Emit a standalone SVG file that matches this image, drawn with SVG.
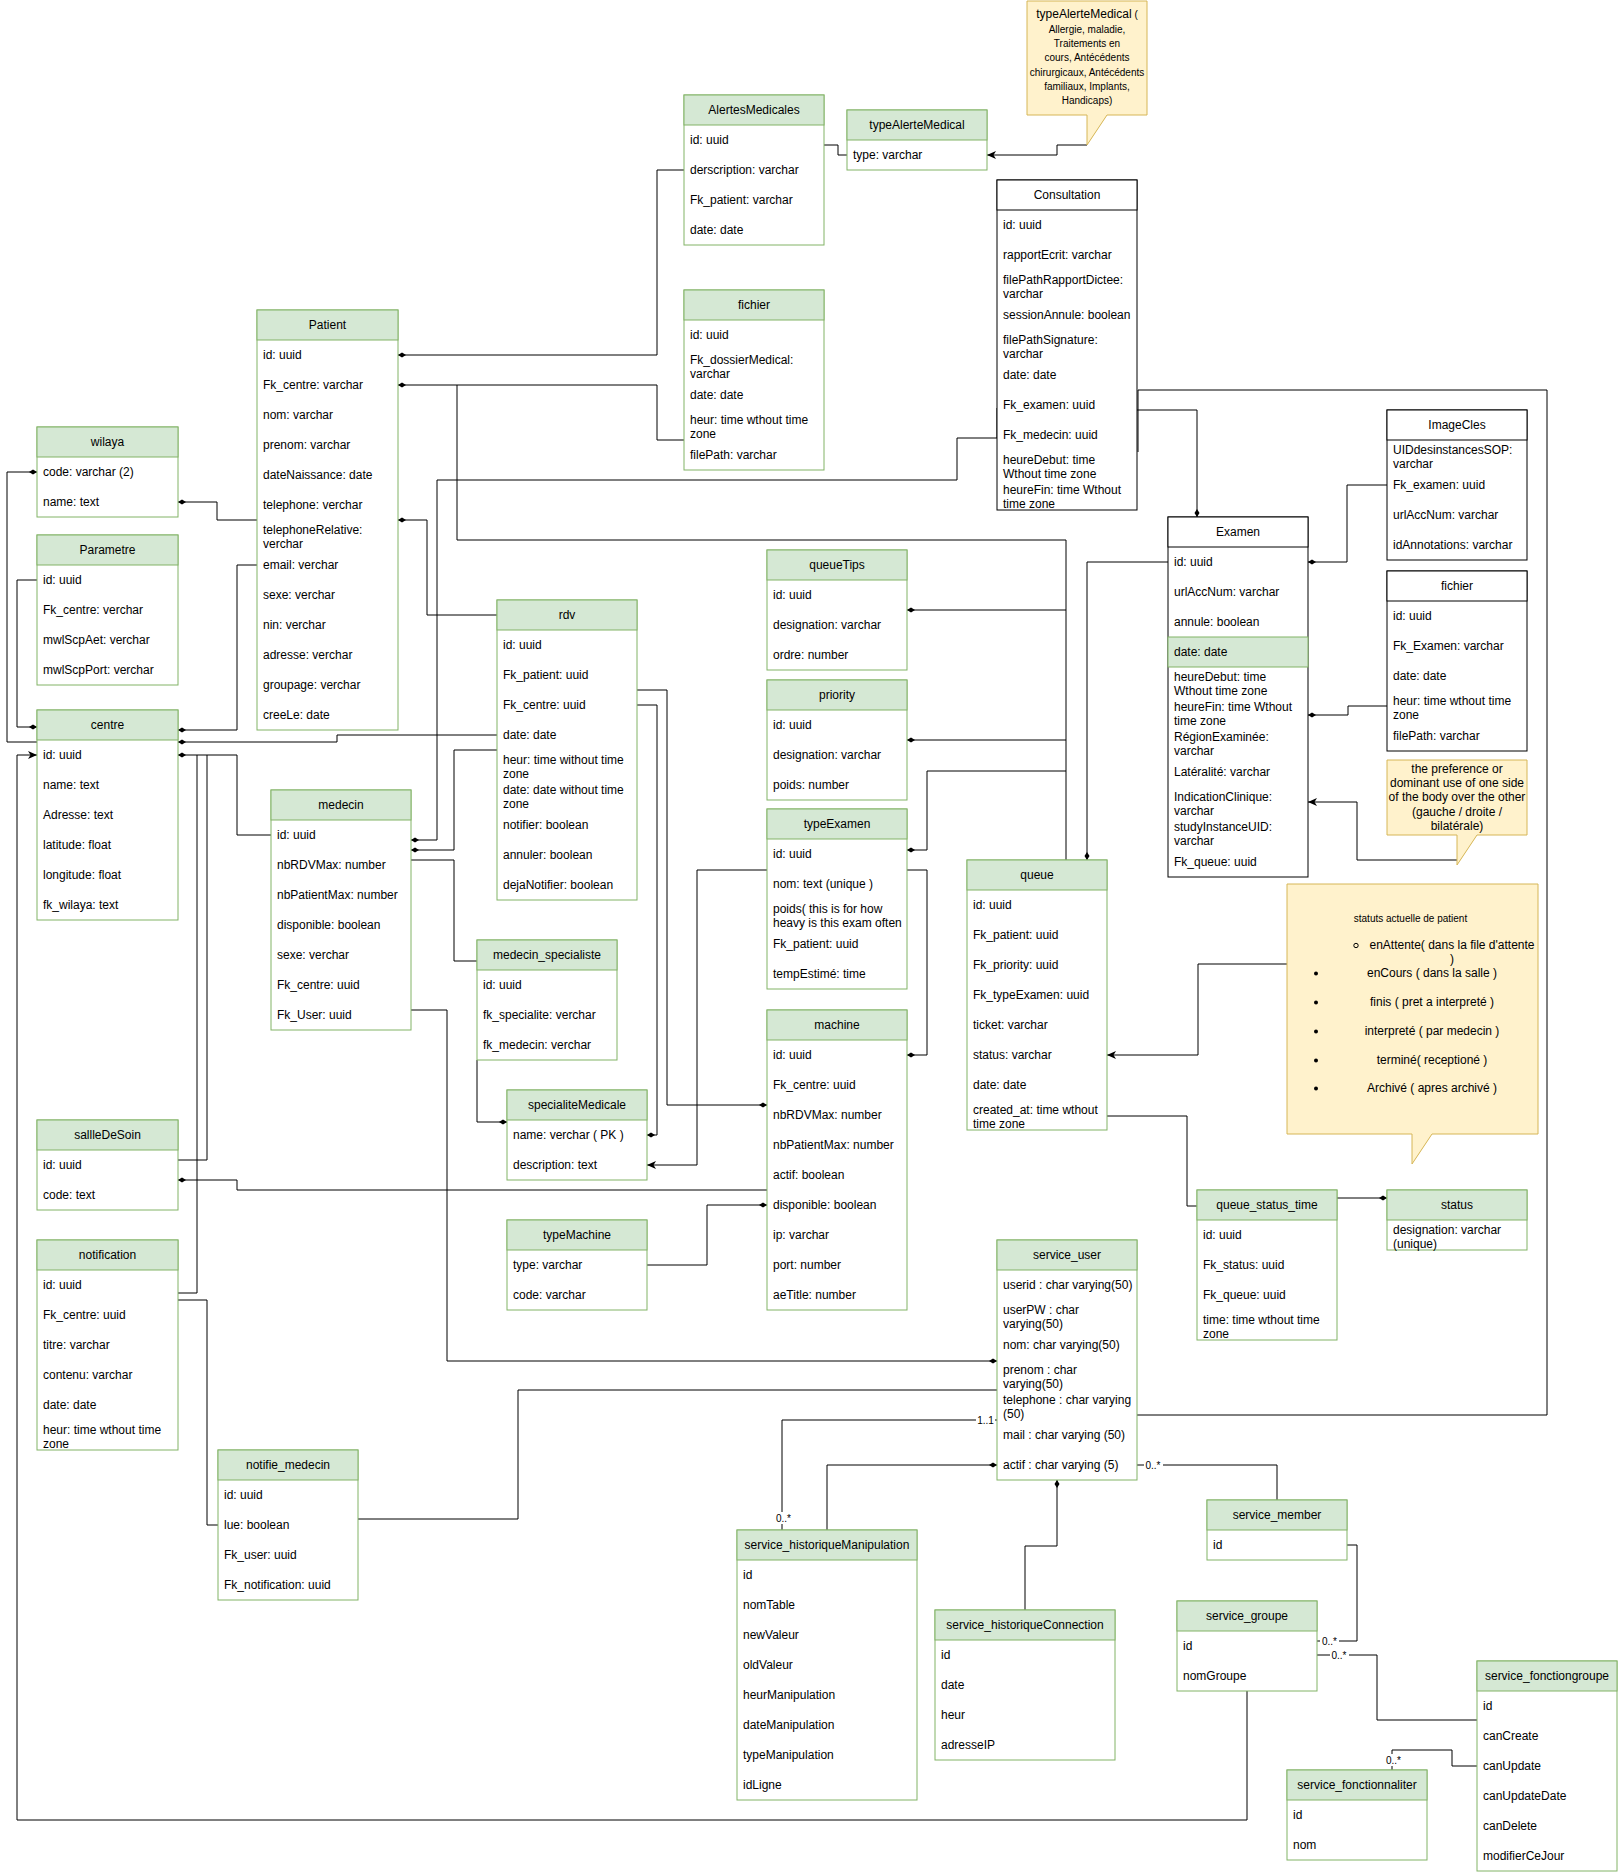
<svg xmlns="http://www.w3.org/2000/svg" width="1618" height="1872" viewBox="0 0 1618 1872">
<style>
.h{fill:#d5e8d4;stroke:#82b366;stroke-width:1}
.b{fill:#fff;stroke:#82b366;stroke-width:1}
.k{fill:#fff;stroke:#000;stroke-width:1}
.t{font-family:"Liberation Sans",Arial,sans-serif;font-size:12px;fill:#000}
.s{font-family:"Liberation Sans",Arial,sans-serif;font-size:10px;fill:#000}
.c{text-anchor:middle}
.e{fill:none;stroke:#000;stroke-width:1}
.n{fill:#fff2cc;stroke:#d6b656;stroke-width:1}
.lb{fill:#fff}
</style>
<defs>
<marker id="d" markerWidth="10" markerHeight="8" refX="9" refY="4" orient="auto" markerUnits="userSpaceOnUse"><path d="M1,4 L5,1.5 L9,4 L5,6.5 Z" fill="#000"/></marker>
<marker id="a" markerWidth="10" markerHeight="10" refX="9" refY="5" orient="auto" markerUnits="userSpaceOnUse"><path d="M0,1 L9,5 L0,9 L2.5,5 Z" fill="#000"/></marker>
</defs>
<rect width="1618" height="1872" fill="#fff"/>

<g id="connectors">
<path class="e" d="M684,170 H657 V355 H398" marker-end="url(#d)"/>
<path class="e" d="M684,440 H657 V385 H398" marker-end="url(#d)"/>
<path class="e" d="M1066,860 V540 H457 V385"/>
<path class="e" d="M497,615 H427 V520 H398" marker-end="url(#d)"/>
<path class="e" d="M257,520 H217 V502 H178" marker-end="url(#d)"/>
<path class="e" d="M38,757 V742 H7 V472 H37" marker-end="url(#d)"/>
<path class="e" d="M37,580 H17 V727 H37" marker-end="url(#d)"/>
<path class="e" d="M257,565 H237 V730 H178" marker-end="url(#d)"/>
<path class="e" d="M497,735 H337 V742 H178" marker-end="url(#d)"/>
<path class="e" d="M271,835 H237 V755 H178" marker-end="url(#d)"/>
<path class="e" d="M178,1160 H207 V755"/>
<path class="e" d="M178,1293 H197 V755"/>
<path class="e" d="M218,1525 H207 V1300 H178"/>
<path class="e" d="M1247,1691 V1820 H17 V755 H37" marker-end="url(#a)"/>
<path class="e" d="M767,1190 H237 V1180 H178" marker-end="url(#d)"/>
<path class="e" d="M997,408 V438 H957 V480 H437 V840 H411" marker-end="url(#d)"/>
<path class="e" d="M497,750 H454 V850 H411" marker-end="url(#d)"/>
<path class="e" d="M411,860 H454 V961 H477"/>
<path class="e" d="M411,1010 H447 V1361 H997" marker-end="url(#d)"/>
<path class="e" d="M358,1519 H518 V1390 H997"/>
<path class="e" d="M647,1265 H707 V1205 H767" marker-end="url(#d)"/>
<path class="e" d="M637,690 H667 V1105 H767" marker-end="url(#d)"/>
<path class="e" d="M637,705 H657 V1135 H647" marker-end="url(#d)"/>
<path class="e" d="M767,870 H697 V1165 H647" marker-end="url(#a)"/>
<path class="e" d="M477,1060 V1122 H507" marker-end="url(#d)"/>
<path class="e" d="M907,870 H927 V1055 H907" marker-end="url(#d)"/>
<path class="e" d="M1066,610 H907" marker-end="url(#d)"/>
<path class="e" d="M1066,740 H907" marker-end="url(#d)"/>
<path class="e" d="M1066,771 H927 V850 H907" marker-end="url(#d)"/>
<path class="e" d="M1168,562 H1087 V860" marker-end="url(#d)"/>
<path class="e" d="M1137,410 H1197 V517" marker-end="url(#d)"/>
<path class="e" d="M1138,452 V390 H1547 V1415 H1137"/>
<path class="e" d="M1387,485 H1347 V562 H1308" marker-end="url(#d)"/>
<path class="e" d="M1387,706 H1348 V715 H1308" marker-end="url(#d)"/>
<path class="e" d="M1457,860 H1357 V802 H1308" marker-end="url(#a)"/>
<path class="e" d="M1287,964 H1198 V1055 H1107" marker-end="url(#a)"/>
<path class="e" d="M1107,1116 H1187 V1206 H1197"/>
<path class="e" d="M1337,1198 H1387" marker-end="url(#d)"/>
<path class="e" d="M1087,145 H1057 V155 H987" marker-end="url(#a)"/>
<path class="e" d="M824,145 H838 V155 H847"/>
<path class="e" d="M997,1420 H782 V1530"/>
<path class="e" d="M827,1530 V1465 H997" marker-end="url(#d)"/>
<path class="e" d="M1025,1610 V1546 H1057 V1480" marker-end="url(#d)"/>
<path class="e" d="M1137,1465 H1277 V1500"/>
<path class="e" d="M1347,1545 H1357 V1641 H1317"/>
<path class="e" d="M1317,1655 H1377 V1720 H1477"/>
<path class="e" d="M1477,1766 H1452 V1750 H1392 V1770"/>
<rect class="lb" x="976" y="1414" width="19" height="12"/>
<text class="s c" x="985.5" y="1424">1..1</text>
<rect class="lb" x="774" y="1512" width="19" height="12"/>
<text class="s c" x="783.5" y="1522">0..*</text>
<rect class="lb" x="1144" y="1459" width="19" height="12"/>
<text class="s c" x="1153" y="1469">0..*</text>
<rect class="lb" x="1320" y="1635" width="19" height="12"/>
<text class="s c" x="1329.5" y="1645">0..*</text>
<rect class="lb" x="1330" y="1649" width="19" height="12"/>
<text class="s c" x="1339" y="1659">0..*</text>
<rect class="lb" x="1384" y="1754" width="19" height="12"/>
<text class="s c" x="1393.5" y="1764">0..*</text>
</g>

<g id="note-typeAlerte">
<path class="n" d="M1027,1 H1147 V115 H1107 L1087,145 V115 H1027 Z"/>
<text class="t c" x="1087" y="18">typeAlerteMedical<tspan font-size="10"> (</tspan></text>
<text class="s c" x="1087" y="33">Allergie, maladie,</text>
<text class="s c" x="1087" y="47">Traitements en</text>
<text class="s c" x="1087" y="61">cours, Antécédents</text>
<text class="s c" x="1087" y="76">chirurgicaux, Antécédents</text>
<text class="s c" x="1087" y="90">familiaux, Implants,</text>
<text class="s c" x="1087" y="104">Handicaps)</text>
</g>

<g id="note-lateralite">
<path class="n" d="M1387,760 H1527 V835 H1477 L1457,865 V835 H1387 Z"/>
<text class="t c" x="1457" y="773">the preference or</text>
<text class="t c" x="1457" y="787">dominant use of one side</text>
<text class="t c" x="1457" y="801">of the body over the other</text>
<text class="t c" x="1457" y="816">(gauche / droite /</text>
<text class="t c" x="1457" y="830">bilatérale)</text>
</g>

<g id="note-statuts">
<path class="n" d="M1287,884 H1538 V1134 H1432 L1412,1164 V1134 H1287 Z"/>
<text class="s c" x="1410.5" y="922">statuts actuelle de patient</text>
<circle cx="1356" cy="945.5" r="2.2" fill="none" stroke="#000" stroke-width="1"/>
<text class="t c" x="1452" y="949">enAttente( dans la file d'attente</text>
<text class="t c" x="1452" y="963">)</text>
<circle cx="1316" cy="973.5" r="2" fill="#000"/>
<text class="t c" x="1432" y="977">enCours ( dans la salle )</text>
<circle cx="1316" cy="1002.5" r="2" fill="#000"/>
<text class="t c" x="1432" y="1006">finis ( pret a interpreté )</text>
<circle cx="1316" cy="1031.5" r="2" fill="#000"/>
<text class="t c" x="1432" y="1035">interpreté ( par medecin )</text>
<circle cx="1316" cy="1060.5" r="2" fill="#000"/>
<text class="t c" x="1432" y="1064">terminé( receptioné )</text>
<circle cx="1316" cy="1088.5" r="2" fill="#000"/>
<text class="t c" x="1432" y="1092">Archivé ( apres archivé )</text>
</g>

<g id="Patient">
<rect class="b" x="257" y="310" width="141" height="420"/><rect class="h" x="257" y="310" width="141" height="30"/>
<text class="t c" x="327.5" y="329">Patient</text>
<text class="t" x="263" y="359">id: uuid</text>
<text class="t" x="263" y="389">Fk_centre: varchar</text>
<text class="t" x="263" y="419">nom: varchar</text>
<text class="t" x="263" y="449">prenom: varchar</text>
<text class="t" x="263" y="479">dateNaissance: date</text>
<text class="t" x="263" y="509">telephone: verchar</text>
<text class="t" x="263" y="533.5">telephoneRelative:</text>
<text class="t" x="263" y="547.5">verchar</text>
<text class="t" x="263" y="569">email: verchar</text>
<text class="t" x="263" y="599">sexe: verchar</text>
<text class="t" x="263" y="629">nin: verchar</text>
<text class="t" x="263" y="659">adresse: verchar</text>
<text class="t" x="263" y="689">groupage: verchar</text>
<text class="t" x="263" y="719">creeLe: date</text>
</g>

<g id="wilaya">
<rect class="b" x="37" y="427" width="141" height="90"/><rect class="h" x="37" y="427" width="141" height="30"/>
<text class="t c" x="107.5" y="446">wilaya</text>
<text class="t" x="43" y="476">code: varchar (2)</text>
<text class="t" x="43" y="506">name: text</text>
</g>

<g id="Parametre">
<rect class="b" x="37" y="535" width="141" height="150"/><rect class="h" x="37" y="535" width="141" height="30"/>
<text class="t c" x="107.5" y="554">Parametre</text>
<text class="t" x="43" y="584">id: uuid</text>
<text class="t" x="43" y="614">Fk_centre: verchar</text>
<text class="t" x="43" y="644">mwlScpAet: verchar</text>
<text class="t" x="43" y="674">mwlScpPort: verchar</text>
</g>

<g id="centre">
<rect class="b" x="37" y="710" width="141" height="210"/><rect class="h" x="37" y="710" width="141" height="30"/>
<text class="t c" x="107.5" y="729">centre</text>
<text class="t" x="43" y="759">id: uuid</text>
<text class="t" x="43" y="789">name: text</text>
<text class="t" x="43" y="819">Adresse: text</text>
<text class="t" x="43" y="849">latitude: float</text>
<text class="t" x="43" y="879">longitude: float</text>
<text class="t" x="43" y="909">fk_wilaya: text</text>
</g>

<g id="sallleDeSoin">
<rect class="b" x="37" y="1120" width="141" height="90"/><rect class="h" x="37" y="1120" width="141" height="30"/>
<text class="t c" x="107.5" y="1139">sallleDeSoin</text>
<text class="t" x="43" y="1169">id: uuid</text>
<text class="t" x="43" y="1199">code: text</text>
</g>

<g id="notification">
<rect class="b" x="37" y="1240" width="141" height="210"/><rect class="h" x="37" y="1240" width="141" height="30"/>
<text class="t c" x="107.5" y="1259">notification</text>
<text class="t" x="43" y="1289">id: uuid</text>
<text class="t" x="43" y="1319">Fk_centre: uuid</text>
<text class="t" x="43" y="1349">titre: varchar</text>
<text class="t" x="43" y="1379">contenu: varchar</text>
<text class="t" x="43" y="1409">date: date</text>
<text class="t" x="43" y="1433.5">heur: time wthout time</text>
<text class="t" x="43" y="1447.5">zone</text>
</g>

<g id="notifie_medecin">
<rect class="b" x="218" y="1450" width="140" height="150"/><rect class="h" x="218" y="1450" width="140" height="30"/>
<text class="t c" x="288" y="1469">notifie_medecin</text>
<text class="t" x="224" y="1499">id: uuid</text>
<text class="t" x="224" y="1529">lue: boolean</text>
<text class="t" x="224" y="1559">Fk_user: uuid</text>
<text class="t" x="224" y="1589">Fk_notification: uuid</text>
</g>

<g id="medecin">
<rect class="b" x="271" y="790" width="140" height="240"/><rect class="h" x="271" y="790" width="140" height="30"/>
<text class="t c" x="341" y="809">medecin</text>
<text class="t" x="277" y="839">id: uuid</text>
<text class="t" x="277" y="869">nbRDVMax: number</text>
<text class="t" x="277" y="899">nbPatientMax: number</text>
<text class="t" x="277" y="929">disponible: boolean</text>
<text class="t" x="277" y="959">sexe: verchar</text>
<text class="t" x="277" y="989">Fk_centre: uuid</text>
<text class="t" x="277" y="1019">Fk_User: uuid</text>
</g>

<g id="rdv">
<rect class="b" x="497" y="600" width="140" height="300"/><rect class="h" x="497" y="600" width="140" height="30"/>
<text class="t c" x="567" y="619">rdv</text>
<text class="t" x="503" y="649">id: uuid</text>
<text class="t" x="503" y="679">Fk_patient: uuid</text>
<text class="t" x="503" y="709">Fk_centre: uuid</text>
<text class="t" x="503" y="739">date: date</text>
<text class="t" x="503" y="763.5">heur: time without time</text>
<text class="t" x="503" y="777.5">zone</text>
<text class="t" x="503" y="793.5">date: date without time</text>
<text class="t" x="503" y="807.5">zone</text>
<text class="t" x="503" y="829">notifier: boolean</text>
<text class="t" x="503" y="859">annuler: boolean</text>
<text class="t" x="503" y="889">dejaNotifier: boolean</text>
</g>

<g id="medecin_specialiste">
<rect class="b" x="477" y="940" width="140" height="120"/><rect class="h" x="477" y="940" width="140" height="30"/>
<text class="t c" x="547" y="959">medecin_specialiste</text>
<text class="t" x="483" y="989">id: uuid</text>
<text class="t" x="483" y="1019">fk_specialite: verchar</text>
<text class="t" x="483" y="1049">fk_medecin: verchar</text>
</g>

<g id="specialiteMedicale">
<rect class="b" x="507" y="1090" width="140" height="90"/><rect class="h" x="507" y="1090" width="140" height="30"/>
<text class="t c" x="577" y="1109">specialiteMedicale</text>
<text class="t" x="513" y="1139">name: verchar ( PK )</text>
<text class="t" x="513" y="1169">description: text</text>
</g>

<g id="typeMachine">
<rect class="b" x="507" y="1220" width="140" height="90"/><rect class="h" x="507" y="1220" width="140" height="30"/>
<text class="t c" x="577" y="1239">typeMachine</text>
<text class="t" x="513" y="1269">type: varchar</text>
<text class="t" x="513" y="1299">code: varchar</text>
</g>

<g id="AlertesMedicales">
<rect class="b" x="684" y="95" width="140" height="150"/><rect class="h" x="684" y="95" width="140" height="30"/>
<text class="t c" x="754" y="114">AlertesMedicales</text>
<text class="t" x="690" y="144">id: uuid</text>
<text class="t" x="690" y="174">derscription: varchar</text>
<text class="t" x="690" y="204">Fk_patient: varchar</text>
<text class="t" x="690" y="234">date: date</text>
</g>

<g id="typeAlerteMedical">
<rect class="b" x="847" y="110" width="140" height="60"/><rect class="h" x="847" y="110" width="140" height="30"/>
<text class="t c" x="917" y="129">typeAlerteMedical</text>
<text class="t" x="853" y="159">type: varchar</text>
</g>

<g id="fichier">
<rect class="b" x="684" y="290" width="140" height="180"/><rect class="h" x="684" y="290" width="140" height="30"/>
<text class="t c" x="754" y="309">fichier</text>
<text class="t" x="690" y="339">id: uuid</text>
<text class="t" x="690" y="363.5">Fk_dossierMedical:</text>
<text class="t" x="690" y="377.5">varchar</text>
<text class="t" x="690" y="399">date: date</text>
<text class="t" x="690" y="423.5">heur: time wthout time</text>
<text class="t" x="690" y="437.5">zone</text>
<text class="t" x="690" y="459">filePath: varchar</text>
</g>

<g id="queueTips">
<rect class="b" x="767" y="550" width="140" height="120"/><rect class="h" x="767" y="550" width="140" height="30"/>
<text class="t c" x="837" y="569">queueTips</text>
<text class="t" x="773" y="599">id: uuid</text>
<text class="t" x="773" y="629">designation: varchar</text>
<text class="t" x="773" y="659">ordre: number</text>
</g>

<g id="priority">
<rect class="b" x="767" y="680" width="140" height="120"/><rect class="h" x="767" y="680" width="140" height="30"/>
<text class="t c" x="837" y="699">priority</text>
<text class="t" x="773" y="729">id: uuid</text>
<text class="t" x="773" y="759">designation: varchar</text>
<text class="t" x="773" y="789">poids: number</text>
</g>

<g id="typeExamen">
<rect class="b" x="767" y="809" width="140" height="180"/><rect class="h" x="767" y="809" width="140" height="30"/>
<text class="t c" x="837" y="828">typeExamen</text>
<text class="t" x="773" y="858">id: uuid</text>
<text class="t" x="773" y="888">nom: text (unique )</text>
<text class="t" x="773" y="912.5">poids( this is for how</text>
<text class="t" x="773" y="926.5">heavy is this exam often</text>
<text class="t" x="773" y="948">Fk_patient: uuid</text>
<text class="t" x="773" y="978">tempEstimé: time</text>
</g>

<g id="machine">
<rect class="b" x="767" y="1010" width="140" height="300"/><rect class="h" x="767" y="1010" width="140" height="30"/>
<text class="t c" x="837" y="1029">machine</text>
<text class="t" x="773" y="1059">id: uuid</text>
<text class="t" x="773" y="1089">Fk_centre: uuid</text>
<text class="t" x="773" y="1119">nbRDVMax: number</text>
<text class="t" x="773" y="1149">nbPatientMax: number</text>
<text class="t" x="773" y="1179">actif: boolean</text>
<text class="t" x="773" y="1209">disponible: boolean</text>
<text class="t" x="773" y="1239">ip: varchar</text>
<text class="t" x="773" y="1269">port: number</text>
<text class="t" x="773" y="1299">aeTitle: number</text>
</g>

<g id="queue">
<rect class="b" x="967" y="860" width="140" height="270"/><rect class="h" x="967" y="860" width="140" height="30"/>
<text class="t c" x="1037" y="879">queue</text>
<text class="t" x="973" y="909">id: uuid</text>
<text class="t" x="973" y="939">Fk_patient: uuid</text>
<text class="t" x="973" y="969">Fk_priority: uuid</text>
<text class="t" x="973" y="999">Fk_typeExamen: uuid</text>
<text class="t" x="973" y="1029">ticket: varchar</text>
<text class="t" x="973" y="1059">status: varchar</text>
<text class="t" x="973" y="1089">date: date</text>
<text class="t" x="973" y="1113.5">created_at: time wthout</text>
<text class="t" x="973" y="1127.5">time zone</text>
</g>

<g id="Consultation">
<rect class="k" x="997" y="180" width="140" height="330"/><rect class="k" x="997" y="180" width="140" height="30"/>
<text class="t c" x="1067" y="199">Consultation</text>
<text class="t" x="1003" y="229">id: uuid</text>
<text class="t" x="1003" y="259">rapportEcrit: varchar</text>
<text class="t" x="1003" y="283.5">filePathRapportDictee:</text>
<text class="t" x="1003" y="297.5">varchar</text>
<text class="t" x="1003" y="319">sessionAnnule: boolean</text>
<text class="t" x="1003" y="343.5">filePathSignature:</text>
<text class="t" x="1003" y="357.5">varchar</text>
<text class="t" x="1003" y="379">date: date</text>
<text class="t" x="1003" y="409">Fk_examen: uuid</text>
<text class="t" x="1003" y="439">Fk_medecin: uuid</text>
<text class="t" x="1003" y="463.5">heureDebut: time</text>
<text class="t" x="1003" y="477.5">Wthout time zone</text>
<text class="t" x="1003" y="493.5">heureFin: time Wthout</text>
<text class="t" x="1003" y="507.5">time zone</text>
</g>

<g id="Examen">
<rect class="k" x="1168" y="517" width="140" height="360"/><rect class="k" x="1168" y="517" width="140" height="30"/>
<rect class="h" x="1168" y="637" width="140" height="30"/>
<text class="t c" x="1238" y="536">Examen</text>
<text class="t" x="1174" y="566">id: uuid</text>
<text class="t" x="1174" y="596">urlAccNum: varchar</text>
<text class="t" x="1174" y="626">annule: boolean</text>
<text class="t" x="1174" y="656">date: date</text>
<text class="t" x="1174" y="680.5">heureDebut: time</text>
<text class="t" x="1174" y="694.5">Wthout time zone</text>
<text class="t" x="1174" y="710.5">heureFin: time Wthout</text>
<text class="t" x="1174" y="724.5">time zone</text>
<text class="t" x="1174" y="740.5">RégionExaminée:</text>
<text class="t" x="1174" y="754.5">varchar</text>
<text class="t" x="1174" y="776">Latéralité: varchar</text>
<text class="t" x="1174" y="800.5">IndicationClinique:</text>
<text class="t" x="1174" y="814.5">varchar</text>
<text class="t" x="1174" y="830.5">studyInstanceUID:</text>
<text class="t" x="1174" y="844.5">varchar</text>
<text class="t" x="1174" y="866">Fk_queue: uuid</text>
</g>

<g id="ImageCles">
<rect class="k" x="1387" y="410" width="140" height="150"/><rect class="k" x="1387" y="410" width="140" height="30"/>
<text class="t c" x="1457" y="429">ImageCles</text>
<text class="t" x="1393" y="453.5">UIDdesinstancesSOP:</text>
<text class="t" x="1393" y="467.5">varchar</text>
<text class="t" x="1393" y="489">Fk_examen: uuid</text>
<text class="t" x="1393" y="519">urlAccNum: varchar</text>
<text class="t" x="1393" y="549">idAnnotations: varchar</text>
</g>

<g id="fichier2">
<rect class="k" x="1387" y="571" width="140" height="180"/><rect class="k" x="1387" y="571" width="140" height="30"/>
<text class="t c" x="1457" y="590">fichier</text>
<text class="t" x="1393" y="620">id: uuid</text>
<text class="t" x="1393" y="650">Fk_Examen: varchar</text>
<text class="t" x="1393" y="680">date: date</text>
<text class="t" x="1393" y="704.5">heur: time wthout time</text>
<text class="t" x="1393" y="718.5">zone</text>
<text class="t" x="1393" y="740">filePath: varchar</text>
</g>

<g id="queue_status_time">
<rect class="b" x="1197" y="1190" width="140" height="150"/><rect class="h" x="1197" y="1190" width="140" height="30"/>
<text class="t c" x="1267" y="1209">queue_status_time</text>
<text class="t" x="1203" y="1239">id: uuid</text>
<text class="t" x="1203" y="1269">Fk_status: uuid</text>
<text class="t" x="1203" y="1299">Fk_queue: uuid</text>
<text class="t" x="1203" y="1323.5">time: time wthout time</text>
<text class="t" x="1203" y="1337.5">zone</text>
</g>

<g id="status">
<rect class="b" x="1387" y="1190" width="140" height="60"/><rect class="h" x="1387" y="1190" width="140" height="30"/>
<text class="t c" x="1457" y="1209">status</text>
<text class="t" x="1393" y="1233.5">designation: varchar</text>
<text class="t" x="1393" y="1247.5">(unique)</text>
</g>

<g id="service_user">
<rect class="b" x="997" y="1240" width="140" height="240"/><rect class="h" x="997" y="1240" width="140" height="30"/>
<text class="t c" x="1067" y="1259">service_user</text>
<text class="t" x="1003" y="1289">userid : char varying(50)</text>
<text class="t" x="1003" y="1313.5">userPW : char</text>
<text class="t" x="1003" y="1327.5">varying(50)</text>
<text class="t" x="1003" y="1349">nom: char varying(50)</text>
<text class="t" x="1003" y="1373.5">prenom : char</text>
<text class="t" x="1003" y="1387.5">varying(50)</text>
<text class="t" x="1003" y="1403.5">telephone : char varying</text>
<text class="t" x="1003" y="1417.5">(50)</text>
<text class="t" x="1003" y="1439">mail : char varying (50)</text>
<text class="t" x="1003" y="1469">actif : char varying (5)</text>
</g>

<g id="service_historiqueManipulation">
<rect class="b" x="737" y="1530" width="180" height="270"/><rect class="h" x="737" y="1530" width="180" height="30"/>
<text class="t c" x="827" y="1549">service_historiqueManipulation</text>
<text class="t" x="743" y="1579">id</text>
<text class="t" x="743" y="1609">nomTable</text>
<text class="t" x="743" y="1639">newValeur</text>
<text class="t" x="743" y="1669">oldValeur</text>
<text class="t" x="743" y="1699">heurManipulation</text>
<text class="t" x="743" y="1729">dateManipulation</text>
<text class="t" x="743" y="1759">typeManipulation</text>
<text class="t" x="743" y="1789">idLigne</text>
</g>

<g id="service_historiqueConnection">
<rect class="b" x="935" y="1610" width="180" height="150"/><rect class="h" x="935" y="1610" width="180" height="30"/>
<text class="t c" x="1025" y="1629">service_historiqueConnection</text>
<text class="t" x="941" y="1659">id</text>
<text class="t" x="941" y="1689">date</text>
<text class="t" x="941" y="1719">heur</text>
<text class="t" x="941" y="1749">adresseIP</text>
</g>

<g id="service_member">
<rect class="b" x="1207" y="1500" width="140" height="60"/><rect class="h" x="1207" y="1500" width="140" height="30"/>
<text class="t c" x="1277" y="1519">service_member</text>
<text class="t" x="1213" y="1549">id</text>
</g>

<g id="service_groupe">
<rect class="b" x="1177" y="1601" width="140" height="90"/><rect class="h" x="1177" y="1601" width="140" height="30"/>
<text class="t c" x="1247" y="1620">service_groupe</text>
<text class="t" x="1183" y="1650">id</text>
<text class="t" x="1183" y="1680">nomGroupe</text>
</g>

<g id="service_fonctiongroupe">
<rect class="b" x="1477" y="1661" width="140" height="210"/><rect class="h" x="1477" y="1661" width="140" height="30"/>
<text class="t c" x="1547" y="1680">service_fonctiongroupe</text>
<text class="t" x="1483" y="1710">id</text>
<text class="t" x="1483" y="1740">canCreate</text>
<text class="t" x="1483" y="1770">canUpdate</text>
<text class="t" x="1483" y="1800">canUpdateDate</text>
<text class="t" x="1483" y="1830">canDelete</text>
<text class="t" x="1483" y="1860">modifierCeJour</text>
</g>

<g id="service_fonctionnaliter">
<rect class="b" x="1287" y="1770" width="140" height="90"/><rect class="h" x="1287" y="1770" width="140" height="30"/>
<text class="t c" x="1357" y="1789">service_fonctionnaliter</text>
<text class="t" x="1293" y="1819">id</text>
<text class="t" x="1293" y="1849">nom</text>
</g>
</svg>
